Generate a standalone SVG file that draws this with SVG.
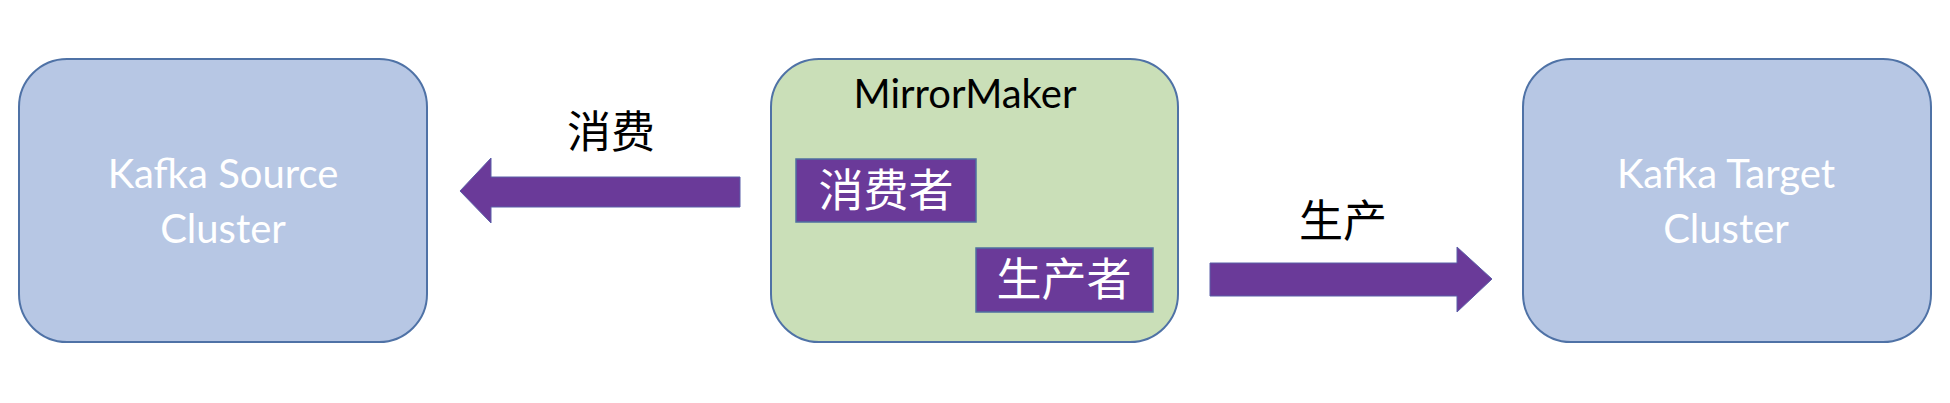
<svg xmlns="http://www.w3.org/2000/svg" width="1950" height="403" viewBox="0 0 1950 403">
  <style>
    .cluster { fill: #B7C7E4; stroke: #4F72A6; stroke-width: 2; }
    .mm { fill: #CADFB8; stroke: #4F72A6; stroke-width: 2; }
    .role { fill: #6A3A99; stroke: #4F6FA0; stroke-width: 1.5; }
    .arrow { fill: #6A3A99; stroke: #5B5FA8; stroke-width: 1; }
    .latin { font-family: Lato, "Open Sans", sans-serif; font-size: 40px; text-anchor: middle; }
    .cjk { font-family: "Noto Sans CJK SC", sans-serif; text-anchor: middle; }
    .white { fill: #FFFFFF; }
    .black { fill: #000000; }
  </style>
  <rect width="1950" height="403" fill="#FFFFFF"/>
  <g id="connectors">
    <polygon class="arrow" points="460,191 491,158 491,177 740,177 740,207 491,207 491,223"/>
    <text class="cjk black" x="611" y="148" font-size="44">消费</text>
    <polygon class="arrow" points="1210,263 1457,263 1457,247 1492,279 1457,312 1457,296 1210,296"/>
    <text class="cjk black" x="1343" y="237" font-size="44">生产</text>
  </g>
  <g id="source">
    <rect class="cluster" x="19" y="59" width="408" height="283" rx="48" ry="48"/>
    <text class="latin white" x="223" y="188">Kafka Source</text>
    <text class="latin white" x="223" y="243">Cluster</text>
  </g>
  <g id="mirrormaker">
    <rect class="mm" x="771" y="59" width="407" height="283" rx="48" ry="48"/>
    <text class="latin black" x="965" y="108">MirrorMaker</text>
  </g>
  <g id="consumer">
    <rect class="role" x="796" y="159" width="180" height="63"/>
    <text class="cjk white" x="886" y="207" font-size="45">消费者</text>
  </g>
  <g id="producer">
    <rect class="role" x="976" y="248" width="177" height="64"/>
    <text class="cjk white" x="1064" y="296" font-size="45">生产者</text>
  </g>
  <g id="target">
    <rect class="cluster" x="1523" y="59" width="408" height="283" rx="48" ry="48"/>
    <text class="latin white" x="1726" y="188">Kafka Target</text>
    <text class="latin white" x="1726" y="243">Cluster</text>
  </g>
</svg>
